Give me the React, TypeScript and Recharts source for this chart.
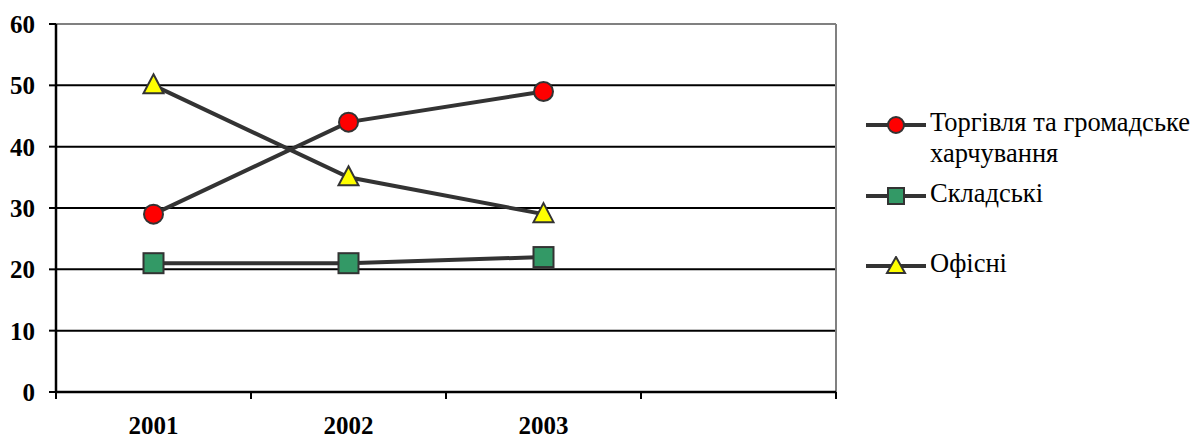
import React from 'react';
import { LineChart, Line, XAxis, YAxis, CartesianGrid, ReferenceLine } from 'recharts';

// Category labels and series values (shares, %)
const years = ['2001', '2002', '2003'];
const trade = [29, 44, 49];
const warehouse = [21, 21, 22];
const office = [50, 35, 29];
const yTicks = [0, 10, 20, 30, 40, 50, 60];
const seriesNames = ['Торгівля та громадське харчування', 'Складські', 'Офісні'];

// Four category slots; the last one is left empty. Points sit at slot centres.
const slotCount = 4;
const data = years.map((y, i) => ({
  pos: i + 0.5,
  year: y,
  trade: trade[i],
  warehouse: warehouse[i],
  office: office[i],
}));

const xTicks: number[] = [];
for (let i = 0; i <= slotCount; i++) {
  xTicks.push(i);
  if (i < years.length) xTicks.push(i + 0.5);
}

const FONT = '"Liberation Serif", "Times New Roman", serif';
const LINE = '#333333';

const CircleDot = (props: any) => {
  const { cx, cy } = props;
  if (cx == null || cy == null) return null;
  return <circle cx={cx} cy={cy} r={9.5} fill="#FF0000" stroke={LINE} strokeWidth={2} />;
};
const SquareDot = (props: any) => {
  const { cx, cy } = props;
  if (cx == null || cy == null) return null;
  return <rect x={cx - 10} y={cy - 10} width={20} height={20} fill="#339966" stroke={LINE} strokeWidth={2} />;
};
const TriangleDot = (props: any) => {
  const { cx, cy } = props;
  if (cx == null || cy == null) return null;
  return (
    <polygon
      points={`${cx},${cy - 11} ${cx + 10},${cy + 8} ${cx - 10},${cy + 8}`}
      fill="#FFFF00"
      stroke={LINE}
      strokeWidth={2}
    />
  );
};

// Integer positions get a tick mark, half positions get the year label.
const XTick = (props: any) => {
  const { x, y, payload } = props;
  const v = payload.value as number;
  if (Number.isInteger(v)) {
    return <line x1={x} y1={y} x2={x} y2={y + 7} stroke="#000" strokeWidth={2} />;
  }
  const label = years[Math.floor(v)];
  return (
    <text x={x} y={y + 42} textAnchor="middle" fontFamily={FONT} fontWeight="bold" fontSize={25} fill="#000">
      {label}
    </text>
  );
};

const seriesKeys = ['trade', 'warehouse', 'office'];
const legendTops = [0, 71, 141];

const legendMarker = (key: string) => {
  if (key === 'trade') return <circle cx={30} cy={10} r={8} fill="#FF0000" stroke={LINE} strokeWidth={2} />;
  if (key === 'warehouse') return <rect x={22} y={2} width={16} height={16} fill="#339966" stroke={LINE} strokeWidth={2} />;
  return <polygon points="30,1 39,17 21,17" fill="#FFFF00" stroke={LINE} strokeWidth={2} />;
};

const ChartLegend = () => (
  <div style={{ position: 'absolute', left: 860, top: 103, width: 335, height: 180, fontFamily: FONT, fontSize: 26.5, color: '#000' }}>
    {seriesKeys.map((key, i) => (
      <div key={key} style={{ position: 'absolute', left: 0, top: legendTops[i] }}>
        <svg width={62} height={20} style={{ position: 'absolute', left: 6, top: 12 }}>
          <line x1={0} y1={10} x2={60} y2={10} stroke={LINE} strokeWidth={4} />
          {legendMarker(key)}
        </svg>
        <div style={{ position: 'absolute', left: 70, top: 4, width: 270, lineHeight: '31px' }}>{seriesNames[i]}</div>
      </div>
    ))}
  </div>
);

export default function App() {
  return (
    <div style={{ position: 'absolute', left: 0, top: 0, width: 1195, height: 439, background: '#fff' }}>
      <LineChart width={1195} height={439} data={data} margin={{ top: 24, right: 359, bottom: 0, left: 0 }}>
        <CartesianGrid horizontal vertical={false} stroke="#000" strokeWidth={2} strokeOpacity={1} />
        <XAxis
          dataKey="pos"
          type="number"
          domain={[0, slotCount]}
          ticks={xTicks}
          interval={0}
          tick={<XTick />}
          tickLine={false}
          tickSize={0}
          tickMargin={0}
          height={47}
          axisLine={{ stroke: '#000', strokeWidth: 2.5 }}
        />
        <YAxis
          domain={[0, 60]}
          ticks={yTicks}
          interval={0}
          width={56}
          tickSize={7}
          tickMargin={14}
          tickLine={{ stroke: '#000', strokeWidth: 2 }}
          axisLine={{ stroke: '#000', strokeWidth: 2.5 }}
          tick={{ fontFamily: FONT, fontWeight: 'bold', fontSize: 25, fill: '#000' }}
        />
        <ReferenceLine y={60} stroke="#808080" strokeWidth={2} />
        <ReferenceLine x={slotCount} stroke="#808080" strokeWidth={2} />
        <Line dataKey="trade" name={seriesNames[0]} stroke={LINE} strokeWidth={4} dot={<CircleDot />} isAnimationActive={false} />
        <Line dataKey="warehouse" name={seriesNames[1]} stroke={LINE} strokeWidth={4} dot={<SquareDot />} isAnimationActive={false} />
        <Line dataKey="office" name={seriesNames[2]} stroke={LINE} strokeWidth={4} dot={<TriangleDot />} isAnimationActive={false} />
      </LineChart>
      <ChartLegend />
    </div>
  );
}
